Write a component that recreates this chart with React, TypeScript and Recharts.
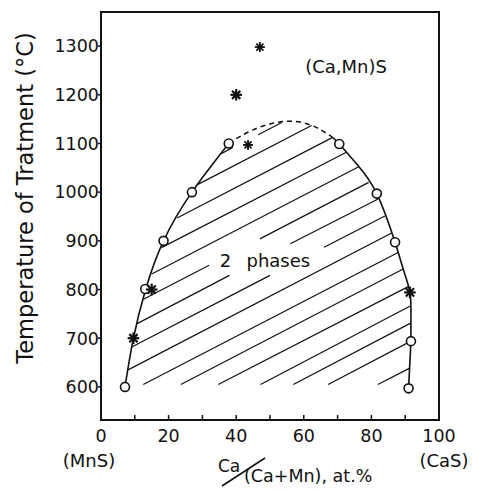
import React from 'react';
import { ComposedChart, Line, Scatter, XAxis, YAxis, ReferenceArea } from 'recharts';

const xTicks = [0, 10, 20, 30, 40, 50, 60, 70, 80, 90, 100];
const yTicks = [600, 700, 800, 900, 1000, 1100, 1200, 1300];

const leftBoundary = [
  { x: 7.1, t: 600 }, { x: 9.6, t: 700 }, { x: 13.2, t: 800 }, { x: 18.5, t: 900 },
  { x: 26.9, t: 1000 }, { x: 37.8, t: 1100 },
];
const dashedTop = [
  { x: 37.8, t: 1100 }, { x: 45, t: 1128 }, { x: 54, t: 1145 }, { x: 62, t: 1138 }, { x: 68, t: 1115 },
];
const rightBoundary = [
  { x: 68, t: 1115 }, { x: 70.5, t: 1099 }, { x: 76, t: 1055 }, { x: 81.6, t: 997 }, { x: 87, t: 897 },
  { x: 89.5, t: 840 }, { x: 91.4, t: 794 }, { x: 91.7, t: 745 }, { x: 91.7, t: 694 },
];
const rightLower = [{ x: 91.7, t: 694 }, { x: 91.0, t: 597 }];

const openCircles = [
  { x: 7.1, t: 600 }, { x: 13.1, t: 801 }, { x: 18.5, t: 900 }, { x: 26.9, t: 1000 }, { x: 37.8, t: 1100 },
  { x: 70.5, t: 1099 }, { x: 81.6, t: 997 }, { x: 87, t: 897 }, { x: 91.7, t: 694 }, { x: 91.0, t: 597 },
];
const boldStars = [
  { x: 40, t: 1200 }, { x: 15, t: 800 }, { x: 9.6, t: 700 }, { x: 91.4, t: 794 },
];
const lightStars = [
  { x: 47, t: 1298 }, { x: 43.5, t: 1097 },
];

const hatchSegments: number[][][] = [
  [[35.6, 1079], [39, 1092]],
  [[46.5, 1118], [53.5, 1143]],
  [[28.7, 1016], [62.3, 1137]],
  [[22.5, 947], [68.4, 1112]],
  [[17.9, 886], [72.6, 1082]],
  [[15, 832], [76.25, 1052]],
  [[12.55, 780], [32, 850]],
  [[47, 904], [79.2, 1020]],
  [[10.7, 730], [38, 829]],
  [[56, 894], [82, 986]],
  [[9.1, 682], [50, 829]],
  [[66, 887], [84, 951]],
  [[8, 635], [86, 916]],
  [[12.5, 605], [87.9, 876]],
  [[23.6, 605], [89.4, 842]],
  [[34.7, 605], [90.9, 806]],
  [[47.2, 605], [91.5, 766]],
  [[56.9, 605], [91.6, 731]],
  [[67.2, 605], [91.4, 693]],
  [[81.9, 605], [91.2, 638]],
];

const INK = '#111';
const FONT = '"DejaVu Sans", sans-serif';

const XTick = (props: any) => {
  const { x, y, payload } = props;
  const v = payload.value;
  return (
    <g>
      <line x1={x} x2={x} y1={y} y2={y - 5} stroke={INK} strokeWidth={1.5} />
      {v % 20 === 0 && (
        <text x={x} y={y + 22} textAnchor="middle" fontSize={17.5} fontFamily={FONT} fill={INK}>{v}</text>
      )}
      {v === 0 && (
        <text x={x - 12} y={y + 47} textAnchor="middle" fontSize={18} fontFamily={FONT} fill={INK}>(MnS)</text>
      )}
      {v === 100 && (
        <text x={x + 5} y={y + 47} textAnchor="middle" fontSize={18} fontFamily={FONT} fill={INK}>(CaS)</text>
      )}
    </g>
  );
};

const YTick = (props: any) => {
  const { x, y, payload } = props;
  return (
    <g>
      <line x1={x - 3} x2={x} y1={y} y2={y} stroke={INK} strokeWidth={1.5} />
      <text x={x - 2} y={y + 6.3} textAnchor="end" fontSize={17.5} fontFamily={FONT} fill={INK}>{payload.value}</text>
    </g>
  );
};

const CircleShape = (props: any) => {
  const { cx, cy } = props;
  return <circle cx={cx} cy={cy} r={4.5} fill="#fff" stroke={INK} strokeWidth={1.6} />;
};

const makeStar = (r: number, w: number, dot: number) => (props: any) => {
  const { cx, cy } = props;
  const angles = [0, 45, 90, 135];
  return (
    <g>
      {angles.map((a) => {
        const rad = (a * Math.PI) / 180;
        return (
          <line key={a} x1={cx - r * Math.cos(rad)} y1={cy - r * Math.sin(rad)}
            x2={cx + r * Math.cos(rad)} y2={cy + r * Math.sin(rad)} stroke={INK} strokeWidth={w} />
        );
      })}
      <circle cx={cx} cy={cy} r={dot} fill={INK} />
    </g>
  );
};
const BoldStar = makeStar(5.8, 2.2, 2.6);
const LightStar = makeStar(5, 1.8, 1.4);

export default function App() {
  return (
    <div style={{ position: 'absolute', left: 0, top: 0, width: 484, height: 491, background: '#fff' }}>
      <ComposedChart width={484} height={491} margin={{ top: 12, right: 45, bottom: 0, left: 0 }}>
        <XAxis dataKey="x" type="number" domain={[0, 100]} ticks={xTicks} interval={0}
          allowDataOverflow height={71} tickSize={0} tickMargin={0} axisLine={false} tickLine={false} tick={<XTick />} />
        <YAxis dataKey="t" type="number" domain={[532, 1370]} ticks={yTicks} interval={0}
          allowDataOverflow width={101} tickSize={0} tickMargin={0} axisLine={false} tickLine={false} tick={<YTick />} />
        <ReferenceArea x1={0} x2={100} y1={532} y2={1370} fill="none" fillOpacity={0} stroke={INK} strokeWidth={2} ifOverflow="visible" />
        {hatchSegments.map((seg, i) => (
          <Line key={`h${i}`} data={seg.map(([x, t]) => ({ x, t }))} dataKey="t" type="linear"
            stroke={INK} strokeWidth={1.2} dot={false} activeDot={false} isAnimationActive={false} />
        ))}
        <Line data={leftBoundary} dataKey="t" type="natural" stroke={INK} strokeWidth={1.6} dot={false} activeDot={false} isAnimationActive={false} />
        <Line data={dashedTop} dataKey="t" type="natural" stroke={INK} strokeWidth={1.5} strokeDasharray="5 4" dot={false} activeDot={false} isAnimationActive={false} />
        <Line data={rightBoundary} dataKey="t" type="natural" stroke={INK} strokeWidth={1.6} dot={false} activeDot={false} isAnimationActive={false} />
        <Line data={rightLower} dataKey="t" type="linear" stroke={INK} strokeWidth={1.6} dot={false} activeDot={false} isAnimationActive={false} />
        <Scatter data={openCircles} dataKey="t" shape={<CircleShape />} isAnimationActive={false} />
        <Scatter data={boldStars} dataKey="t" shape={<BoldStar />} isAnimationActive={false} />
        <Scatter data={lightStars} dataKey="t" shape={<LightStar />} isAnimationActive={false} />
      </ComposedChart>
      <svg width={484} height={491} style={{ position: 'absolute', left: 0, top: 0, pointerEvents: 'none' }}>
        <text transform="translate(33,198) rotate(-90)" textAnchor="middle" fontSize={22.5} fontFamily={FONT} fill={INK}>
          Temperature of Tratment (°C)
        </text>
        <text x={346} y={72.5} textAnchor="middle" fontSize={18} fontFamily={FONT} fill={INK}>(Ca,Mn)S</text>
        <text x={225.5} y={266.5} textAnchor="middle" fontSize={18} fontFamily={FONT} fill={INK}>2</text>
        <text x={246.5} y={266.5} textAnchor="start" fontSize={18} fontFamily={FONT} fill={INK}>phases</text>
        <text x={218} y={472} textAnchor="start" fontSize={17} fontFamily={FONT} fill={INK}>Ca</text>
        <line x1={222} y1={486} x2={265} y2={458} stroke={INK} strokeWidth={1.6} />
        <text x={244} y={482} textAnchor="start" fontSize={17.5} fontFamily={FONT} fill={INK}>(Ca+Mn), at.%</text>
      </svg>
    </div>
  );
}
